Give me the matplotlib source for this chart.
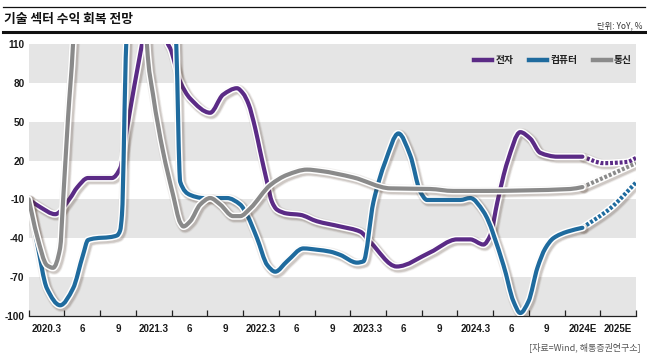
import matplotlib
matplotlib.use('Agg')
import matplotlib.pyplot as plt
import matplotlib.patheffects as pe
from matplotlib.lines import Line2D
from matplotlib.path import Path
from matplotlib.patches import PathPatch
import numpy as np

plt.rcParams['font.family'] = ['Liberation Sans', 'Noto Sans CJK KR', 'DejaVu Sans']
KR = ['Noto Sans CJK KR', 'DejaVu Sans']

# quarter labels (one per interval between ticks)
quarters = ['2020.3', '6', '9', '2021.3', '6', '9', '2022.3', '6', '9',
            '2023.3', '6', '9', '2024.3', '6', '9', '2024E', '2025E']
yticks = [110, 80, 50, 20, -10, -40, -70, -100]

# x in quarter units from the left edge; values in YoY %
# values above 110 run off the top of the chart
elec_x = [0, 0.32, 0.74, 1.16, 1.35, 1.66, 2.33, 2.56, 2.75, 3.17, 3.29,
          3.73, 3.90, 3.96, 4.24, 4.52, 5.08, 5.44, 5.83, 6.0, 6.15, 6.34,
          6.48, 6.67, 6.81, 6.95, 7.23, 7.60, 8.07, 8.72, 9.28, 9.56, 10.30,
          11.24, 11.99, 12.36, 12.73, 12.92, 13.12, 13.40, 13.76, 14.04,
          14.32, 14.80, 15.5]
elec_y = [-10, -16, -21.5, -9, -1, 6.5, 6.5, 14, 45, 110, 127,
          124, 110, 107, 81, 68, 57, 71, 76, 72, 64, 45,
          27, 3.6, -12, -18, -21, -22, -27, -31, -35, -43, -62,
          -51, -41, -41, -45, -38, -12, 19, 42, 37,
          26, 23, 23]
elec_fx = [15.5, 16.09, 16.76, 17.0]
elec_fy = [23, 18, 19, 22]

comp_x = [0, 0.23, 0.51, 0.88, 1.24, 1.52, 1.66, 2.47, 2.56, 2.61, 2.73,
          2.78, 4.10, 4.13, 4.24, 4.52, 4.89, 5.55, 5.92, 6.11, 6.39, 6.68,
          6.90, 7.23, 7.69, 8.07, 8.44, 8.72, 9.19, 9.37, 9.65, 9.98, 10.35,
          10.68, 10.96, 11.15, 12.08, 12.36, 12.73, 13.29, 13.57, 13.76,
          13.99, 14.24, 14.46, 14.69, 15.08, 15.5]
comp_y = [-10, -43, -79, -92, -79, -53, -41.5, -38, -34, -22, 110,
          130, 130, 110, 3.6, -6.6, -9, -9, -14, -22, -40, -61,
          -66, -58, -48, -49, -50.5, -53, -59, -58, -12, 19, 41,
          24, -4, -10.5, -10.5, -9, -19.5, -61, -89, -98,
          -89, -63, -48, -40, -35, -32]
comp_fx = [15.5, 16.28, 17.0]
comp_fy = [-32, -17, 3]

tele_x = [0, 0.23, 0.51, 0.68, 0.88, 0.96, 1.10, 1.24, 1.27, 3.29, 3.31,
          3.48, 3.76, 4.04, 4.24, 4.33, 4.52, 4.80, 5.08, 5.36, 5.72, 5.92,
          6.20, 6.76, 7.24, 7.79, 8.16, 9.08, 10.12, 11.24, 11.88, 12.64,
          15.16, 15.5]
tele_y = [-10, -38, -61, -63, -47.5, -12, 53, 110, 130, 130, 110,
          71, 27, -6.5, -28, -31, -27, -14, -9, -14, -23, -23,
          -17, 1, 9, 13, 12, 7, -1.5, -2, -3.5, -3.5,
          -2, -0.5]
tele_fx = [15.5, 16.28, 17.0]
tele_fy = [-0.5, 9, 18]

series = [
    ('전자', '#5b2b86', elec_x, elec_y, elec_fx, elec_fy),
    ('컴퓨터', '#1f6b9e', comp_x, comp_y, comp_fx, comp_fy),
    ('통신', '#8a8a8a', tele_x, tele_y, tele_fx, tele_fy),
]


def smooth_path(x, y):
    # monotone cubic through the read points, drawn as bezier segments
    x = np.asarray(x, float)
    y = np.asarray(y, float)
    h = np.diff(x)
    d = np.diff(y) / h
    m = np.zeros_like(y)
    m[0], m[-1] = d[0], d[-1]
    for k in range(1, len(x) - 1):
        if d[k - 1] * d[k] > 0:
            w1 = 2 * h[k] + h[k - 1]
            w2 = h[k] + 2 * h[k - 1]
            m[k] = (w1 + w2) / (w1 / d[k - 1] + w2 / d[k])
    verts = [(x[0], y[0])]
    codes = [Path.MOVETO]
    for k in range(len(h)):
        verts += [(x[k] + h[k] / 3, y[k] + m[k] * h[k] / 3),
                  (x[k + 1] - h[k] / 3, y[k + 1] - m[k + 1] * h[k] / 3),
                  (x[k + 1], y[k + 1])]
        codes += [Path.CURVE4] * 3
    return Path(verts, codes)


fig = plt.figure(figsize=(6.47, 3.58), dpi=100)
ax = fig.add_axes([0.0444, 0.1184, 0.9386, 0.7579])

for lo, hi in [(80, 110), (20, 50), (-40, -10), (-100, -70)]:
    ax.axhspan(lo, hi, color='#e5e5e5', lw=0, zorder=0)

# soft shadow: a few wide, faint strokes offset down-right
shadow = [pe.SimpleLineShadow(offset=(1.1, -1.1), shadow_color='#4a3325', alpha=a, linewidth=w)
          for w, a in [(8.0, 0.06), (7.0, 0.09), (6.0, 0.14)]]
outline = pe.Stroke(linewidth=5.2, foreground='white')

for name, color, x, y, fx, fy in series:
    fpath = smooth_path(fx, fy)
    ax.add_patch(PathPatch(fpath, fill=False, edgecolor='white', lw=5.2,
                           capstyle='round', zorder=2,
                           path_effects=shadow + [pe.Normal()]))
    ax.add_patch(PathPatch(fpath, fill=False, edgecolor=color, lw=3.0,
                           linestyle=(0, (0.7, 0.45)), capstyle='butt', zorder=3))
    ax.add_patch(PathPatch(smooth_path(x, y), fill=False, edgecolor=color, lw=3.0,
                           capstyle='round', joinstyle='round', zorder=4,
                           path_effects=shadow + [outline, pe.Normal()]))

ax.set_xlim(0, 17)
ax.set_ylim(-100, 110)
ax.set_yticks(yticks)
ax.set_yticklabels([str(v) for v in yticks])
ax.set_xticks(np.arange(0, 18))
ax.set_xticklabels([])
ax.set_xticks(np.arange(len(quarters)) + 0.5, minor=True)
ax.set_xticklabels(quarters, minor=True)
ax.tick_params(axis='x', which='major', direction='in', length=4, width=0.9, color='#222222')
ax.tick_params(axis='x', which='minor', length=0, pad=6, labelsize=7, labelcolor='#1a1a1a')
ax.tick_params(axis='y', length=0, pad=3, labelsize=7.2, labelcolor='#1a1a1a')
for lab in ax.get_xticklabels(minor=True) + ax.get_yticklabels():
    lab.set_fontweight('bold')
for s in ['top', 'right', 'left']:
    ax.spines[s].set_visible(False)
ax.spines['bottom'].set_color('#222222')
ax.spines['bottom'].set_linewidth(0.9)

handles = [Line2D([], [], color=c, lw=3.2) for _, c, *_ in series]
leg = ax.legend(handles, [s[0] for s in series], loc='center right', ncol=3,
                bbox_to_anchor=(1.0, 0.941), frameon=False, handlelength=1.9,
                handletextpad=0.3, columnspacing=1.6, borderaxespad=0, borderpad=0.4,
                prop={'family': KR, 'size': 7, 'weight': 'bold'})
for t in leg.get_texts():
    t.set_color('#222222')

# header lines and texts
fig.add_artist(Line2D([0.005, 0.997], [1 - 6.5 / 358, 1 - 6.5 / 358], color='#111111', lw=0.9))
fig.add_artist(Line2D([0.005, 0.997], [1 - 32 / 358, 1 - 32 / 358], color='#111111', lw=2.2))
fig.text(0.006, 1 - 19 / 358, '기술 섹터 수익 회복 전망', family=KR, fontsize=9.2,
         fontweight='bold', va='center', ha='left', color='#111111')
fig.text(0.993, 1 - 26 / 358, '단위: YoY, %', family=KR, fontsize=6, va='center',
         ha='right', color='#333333')
fig.text(0.99, 1 - 347 / 358, '[자료=Wind, 해통증권연구소]', family=KR, fontsize=6.5,
         va='center', ha='right', color='#555555')

fig.savefig('out.png', dpi=100)
